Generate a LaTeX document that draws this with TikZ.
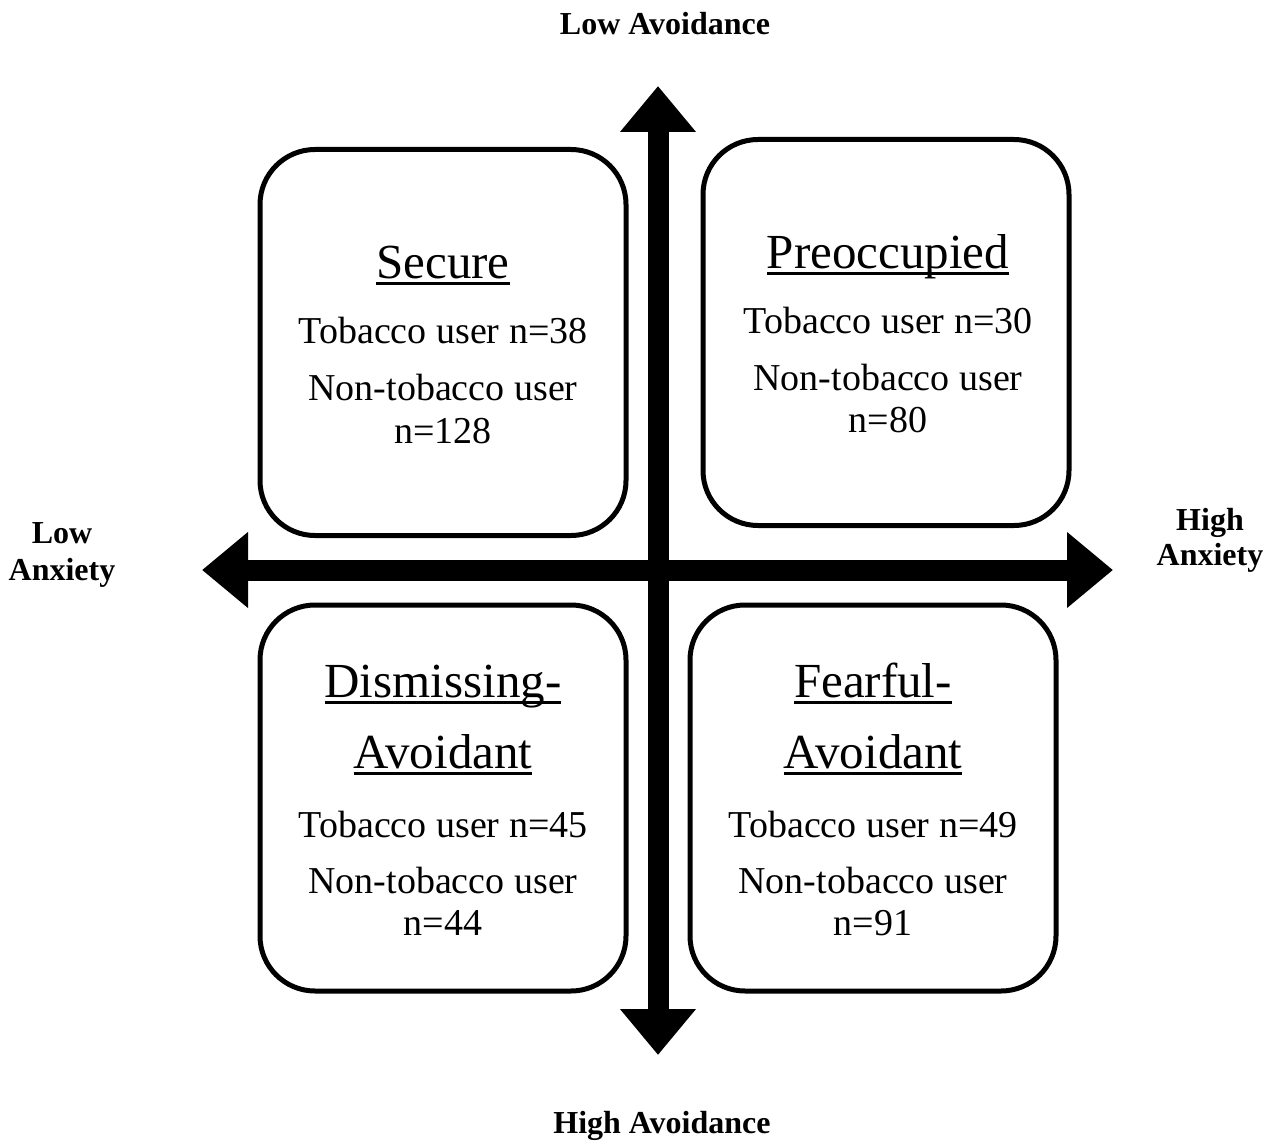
\documentclass[tikz,border=0pt]{standalone}
\usepackage{fontspec}
\setmainfont{Liberation Serif}
\usetikzlibrary{arrows.meta}
\newcommand\myul[1]{\leavevmode\setbox0\hbox{#1}\rlap{\rule[-7pt]{\wd0}{3pt}}\box0}
\tikzset{
  qbox/.style={draw=black, line width=5pt, rounded corners=55pt, minimum width=366pt, minimum height=386pt, inner sep=0pt},
  head/.style={anchor=base, inner sep=0pt, font=\fontsize{49}{55}\selectfont},
  body/.style={anchor=base, inner sep=0pt, font=\fontsize{38}{44}\selectfont},
  axlabel/.style={anchor=base, inner sep=0pt, font=\fontsize{32}{36}\selectfont\bfseries},
  axis/.style={line width=21pt, {Triangle[width=73pt,length=46pt]}-{Triangle[width=73pt,length=46pt]}}
}
\begin{document}
\begin{tikzpicture}[x=1pt,y=-1pt]
\useasboundingbox (0,0) rectangle (1272,1145);
% boxes
\node[qbox] (secure) at (443,342.5) {};
\node[qbox] (preocc) at (886,332.5) {};
\node[qbox] (dismiss) at (443,798) {};
\node[qbox] (fearful) at (873,798) {};
% axes
\coordinate (vt) at (658,86);
\coordinate (vb) at (658,1055);
\coordinate (hl) at (202,570);
\coordinate (hr) at (1113,570);
\draw[axis] (vb) -- (vt);
\draw[axis] (hl) -- (hr);
% Secure
\node[head] (s1) at (443,278) {\myul{Secure}};
\node[body] (s2) at (443,343) {Tobacco user n=38};
\node[body] (s3) at (443,400) {Non-tobacco user};
\node[body] (s4) at (443,443) {n=128};
% Preoccupied
\node[head] (p1) at (888,268) {\myul{Preoccupied}};
\node[body] (p2) at (888,333) {Tobacco user n=30};
\node[body] (p3) at (888,390) {Non-tobacco user};
\node[body] (p4) at (888,432) {n=80};
% Dismissing
\node[head] (d1) at (443,697) {\myul{Dismissing-}};
\node[head] (d2) at (443,768) {\myul{Avoidant}};
\node[body] (d3) at (443,837) {Tobacco user n=45};
\node[body] (d4) at (443,893) {Non-tobacco user};
\node[body] (d5) at (443,935) {n=44};
% Fearful
\node[head] (f1) at (873,697) {\myul{Fearful-}};
\node[head] (f2) at (873,768) {\myul{Avoidant}};
\node[body] (f3) at (873,837) {Tobacco user n=49};
\node[body] (f4) at (873,893) {Non-tobacco user};
\node[body] (f5) at (873,935) {n=91};
% axis labels
\node[axlabel] (la) at (665,35) {Low Avoidance};
\node[axlabel] (ha) at (662,1133) {High Avoidance};
\node[axlabel] (lx1) at (62,543) {Low};
\node[axlabel] (lx2) at (62,580) {Anxiety};
\node[axlabel] (hx1) at (1210,530) {High};
\node[axlabel] (hx2) at (1210,565) {Anxiety};
\end{tikzpicture}
\end{document}
